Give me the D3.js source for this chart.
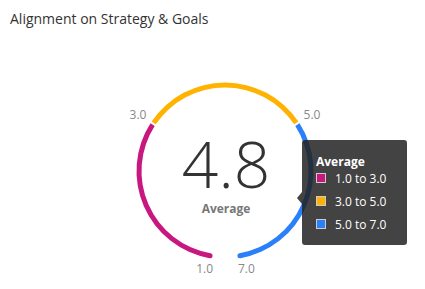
<!DOCTYPE html>
<html><head><meta charset="utf-8">
<script src="https://cdn.jsdelivr.net/npm/d3@7"></script>
<style>body{margin:0;background:#fff;}svg{display:block;font-family:"Open Sans",sans-serif;}</style>
</head><body>
<svg id="c" width="425" height="289"></svg>
<script>
const title = "Alignment on Strategy & Goals";
const bandStarts = [1.0, 3.0, 5.0];
const bandEnds = [3.0, 5.0, 7.0];
const bandColors = ["#C8177E", "#FFB300", "#2B7FF8"];
const bandLabels = ["1.0 to 3.0", "3.0 to 5.0", "5.0 to 7.0"];
const tickValues = [1.0, 3.0, 5.0, 7.0];
const averageValue = 4.8;
const averageLabel = "Average";

const svg = d3.select("#c");
const cx = 225, cy = 171, r = 86, sw = 5;
const ang = d3.scaleLinear().domain([1, 7]).range([-170 * Math.PI / 180, 170 * Math.PI / 180]);

svg.append("text").attr("x", 10).attr("y", 24).attr("font-size", 14).attr("fill", "#333").text(title);

const g = svg.append("g").attr("transform", `translate(${cx},${cy})`);
const arc = d3.arc().innerRadius(r - sw / 2).outerRadius(r + sw / 2);
const pad = 0.012;
bandStarts.forEach((s, i) => {
  const a0 = ang(s) + (i > 0 ? pad : 0);
  const a1 = ang(bandEnds[i]) - (i < bandStarts.length - 1 ? pad : 0);
  g.append("path").attr("d", arc({startAngle: a0, endAngle: a1})).attr("fill", bandColors[i]);
});
[[1, 0], [7, 2]].forEach(([v, ci]) => {
  const a = ang(v);
  g.append("circle").attr("cx", r * Math.sin(a)).attr("cy", -r * Math.cos(a)).attr("r", sw / 2).attr("fill", bandColors[ci]);
});

// tick labels
const tickShift = {1: [-3, 0, "middle"], 3: [5, 0, "end"], 5: [-5, 0, "start"], 7: [4, 0, "middle"]};
tickValues.forEach(t => {
  const a = ang(t);
  const lr = 100;
  const s = tickShift[t];
  const x = lr * Math.sin(a) + s[0], y = -lr * Math.cos(a) + s[1];
  g.append("text").attr("x", x).attr("y", y).attr("text-anchor", s[2]).attr("dominant-baseline", "middle")
    .attr("font-size", 12).attr("fill", "#888").text(d3.format(".1f")(t));
});

g.append("text").attr("x", 1).attr("y", 17).attr("text-anchor", "middle").attr("font-size", 64)
  .attr("font-weight", 300).attr("fill", "#333").text(d3.format(".1f")(averageValue));
g.append("text").attr("x", 1).attr("y", 42).attr("text-anchor", "middle").attr("font-size", 12)
  .attr("font-weight", 700).attr("fill", "#777").text(averageLabel);

// tooltip
const tt = svg.append("g").attr("transform", "translate(302,140)");
tt.append("path").attr("d", "M0,3 Q0,0 3,0 L102,0 Q105,0 105,3 L105,102 Q105,105 102,105 L3,105 Q0,105 0,102 L0,64 L-5,58 L0,52 Z")
  .attr("fill", "#222").attr("fill-opacity", 0.85);
tt.append("text").attr("x", 14).attr("y", 26).attr("font-size", 12).attr("font-weight", 700).attr("fill", "#fff").text(averageLabel);
bandLabels.forEach((l, i) => {
  const y = 33 + i * 23;
  tt.append("rect").attr("x", 14.5).attr("y", y + 0.5).attr("width", 9).attr("height", 9)
    .attr("fill", bandColors[i]).attr("stroke", "#ccc").attr("stroke-width", 1);
  tt.append("text").attr("x", 33).attr("y", y + 9.5).attr("font-size", 12).attr("fill", "#fff").text(l);
});
</script>
</body></html>
